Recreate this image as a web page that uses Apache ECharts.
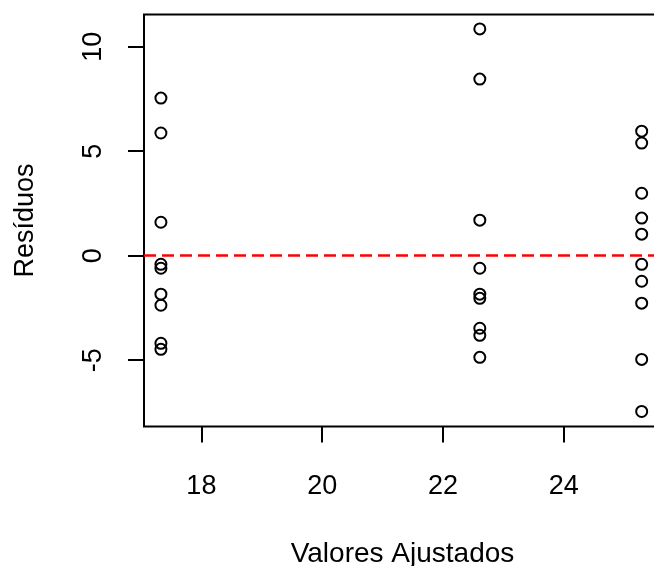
<!DOCTYPE html>
<html>
<head>
<meta charset="utf-8">
<script src="https://cdn.jsdelivr.net/npm/echarts@6/dist/echarts.min.js"></script>
<style>
  html, body { margin: 0; padding: 0; background: #fff; }
  #chart { width: 654px; height: 566px; }
</style>
</head>
<body>
<div id="chart"></div>
<script>
// Fitted values (one per group) and residuals of each observation
const fittedGroups = [17.33, 22.61, 25.29];
const residualsGroup1 = [7.54, 5.87, 1.60, -0.41, -0.60, -1.84, -2.37, -4.19, -4.48];
const residualsGroup2 = [10.85, 8.45, 1.70, -0.60, -1.84, -2.04, -3.47, -3.81, -4.86];
const residualsGroup3 = [5.96, 5.39, 2.99, 1.80, 1.03, -0.41, -1.22, -2.27, -4.96, -7.45];
const xTicks = [18, 20, 22, 24];
const yTicks = [-5, 0, 5, 10];
const referenceLevel = 0;

const residualGroups = [residualsGroup1, residualsGroup2, residualsGroup3];
const points = [];
residualGroups.forEach((group, i) => {
  group.forEach(r => points.push([fittedGroups[i], r]));
});

const font = 'Liberation Sans, Arial, sans-serif';
const chart = echarts.init(document.getElementById('chart'), null, { renderer: 'canvas' });

chart.setOption({
  animation: false,
  backgroundColor: '#fff',
  grid: {
    left: 144, top: 14.5, right: -7, bottom: 139.5,
    outerBoundsMode: 'none',
    containLabel: false,
    show: true, borderColor: '#000', borderWidth: 2, backgroundColor: 'transparent'
  },
  xAxis: {
    type: 'value',
    min: 17.05, max: 25.61,
    name: 'Valores Ajustados',
    nameLocation: 'middle',
    nameGap: 114,
    nameTextStyle: { fontFamily: font, fontSize: 28, color: '#000' },
    axisLine: { show: false, onZero: false },
    splitLine: { show: false },
    axisTick: {
      show: true, inside: false, length: 16,
      lineStyle: { color: '#000', width: 2 },
      customValues: xTicks
    },
    axisLabel: {
      margin: 47, fontFamily: font, fontSize: 27, color: '#000',
      customValues: xTicks
    }
  },
  yAxis: {
    type: 'value',
    min: -8.17, max: 11.54,
    name: 'Resíduos',
    nameLocation: 'middle',
    nameGap: 105,
    nameTextStyle: { fontFamily: font, fontSize: 27, color: '#000' },
    axisLine: { show: false, onZero: false },
    splitLine: { show: false },
    axisTick: {
      show: true, inside: false, length: 16,
      lineStyle: { color: '#000', width: 2 },
      customValues: yTicks
    },
    axisLabel: {
      rotate: 90, margin: 37, fontFamily: font, fontSize: 27, color: '#000',
      customValues: yTicks
    }
  },
  series: [{
    type: 'scatter',
    data: points,
    symbol: 'circle',
    symbolSize: 11,
    itemStyle: { color: 'rgba(0,0,0,0)', borderColor: '#000', borderWidth: 2, opacity: 1 },
    markLine: {
      silent: true,
      symbol: ['none', 'none'],
      label: { show: false },
      lineStyle: { color: '#ff0000', type: [12, 6], width: 2.5 },
      data: [{ yAxis: referenceLevel }]
    }
  }]
});
</script>
</body>
</html>
